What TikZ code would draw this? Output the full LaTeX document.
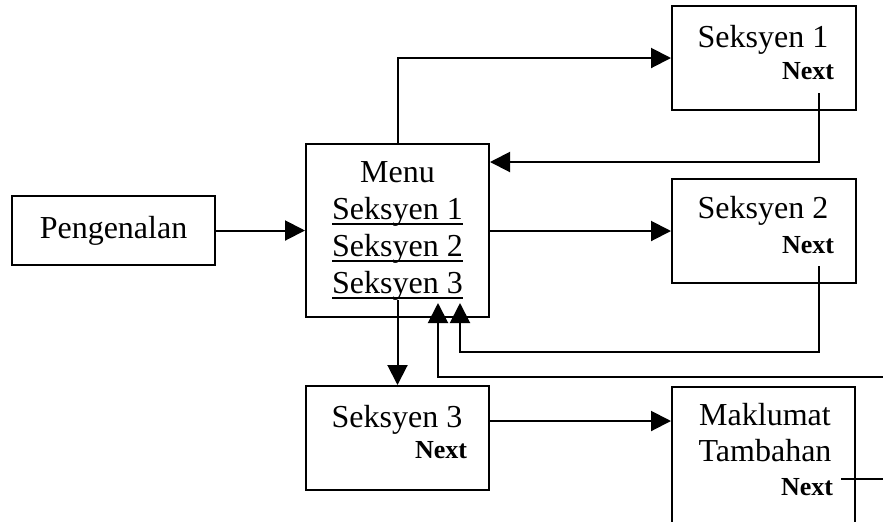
\documentclass[tikz,border=0pt]{standalone}
\usepackage{fontspec}
\setmainfont{Liberation Serif}
\usetikzlibrary{arrows.meta}
\newcommand\uln[1]{\setbox0\hbox{#1}\rlap{\rule[-2.9pt]{\wd0}{0.9pt}}\box0}
\begin{document}
\begin{tikzpicture}[x=0.5pt,y=-0.5pt,line width=1pt,
  box/.style={draw,rectangle,inner sep=0pt,minimum width=91.5pt,minimum height=52pt},
  txt/.style={font=\fontsize{16pt}{18.5pt}\selectfont,inner sep=0pt,anchor=base},
  nxt/.style={font=\fontsize{13pt}{15pt}\selectfont\bfseries,inner sep=0pt,anchor=base east},
  arr/.style={-{Triangle[length=10pt,width=10pt]}}]
\clip (0,0) rectangle (883,521);
% boxes
\node[box,minimum width=101.5pt,minimum height=34.5pt,font=\fontsize{16pt}{18.5pt}\selectfont] (peng) at (113.5,230.5) {Pengenalan};
\node[box,minimum height=86.5pt,align=center,font=\fontsize{16pt}{18.5pt}\selectfont] (menu) at (397.5,230.5)
  {Menu\\\uln{Seksyen 1}\\\uln{Seksyen 2}\\\uln{Seksyen 3}};
\node[box,minimum width=92pt] (s1) at (764,58) {};
\node[box,minimum width=92pt] (s2) at (764,231) {};
\node[box] (s3) at (397.5,438) {};
\node[box,minimum height=86.5pt] (mak) at (763.5,473.5) {};
% texts
\node[txt] (t1) at (763,47.5) {Seksyen 1};
\node[nxt] (n1) at (835,79.5) {Next};
\node[txt] (t2) at (763,218.5) {Seksyen 2};
\node[nxt] (n2) at (835,253.5) {Next};
\node[txt] (t3) at (397,427.5) {Seksyen 3};
\node[nxt] (n3) at (468,458.5) {Next};
\node[txt] (tm1) at (765,425) {Maklumat};
\node[txt] (tm2) at (765,461) {Tambahan};
\node[nxt] (nm) at (834,495) {Next};
% coordinates
\coordinate (c1) at (819,93);
\coordinate (r1) at (819,162);
\coordinate (c2) at (819,266);
\coordinate (r2) at (819,352);
\coordinate (u2) at (460,303);
\coordinate (d0) at (397.5,300);
\coordinate (e3) at (883,377);
\coordinate (u3) at (438,303);
\coordinate (a3) at (0,421);
\coordinate (cm) at (841,479);
\coordinate (em) at (883,479);
% connectors
\draw[arr] (peng.east) -- (menu.west);
\draw[arr] (menu.north) |- (s1.west);
\draw[arr] (c1) -- (r1) -- (menu.east |- r1);
\draw[arr] (menu.east |- s2.west) -- (s2.west);
\draw[arr] (c2) -- (r2) -- (u2 |- r2) -- (u2);
\draw[arr] (d0) -- (s3.north);
\draw[arr] (e3) -- (u3 |- e3) -- (u3);
\draw[arr] (s3.east |- a3) -- (mak.west |- a3);
\draw (cm) -- (em);
\end{tikzpicture}
\end{document}
